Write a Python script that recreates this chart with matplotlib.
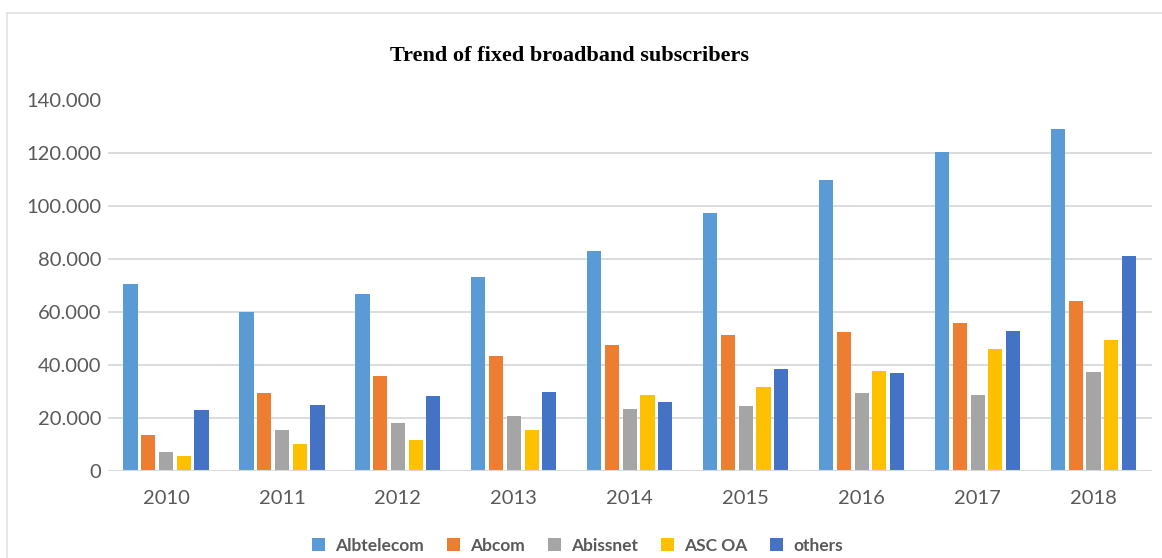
import matplotlib.pyplot as plt
import matplotlib.ticker as mticker
import numpy as np

years = ['2010', '2011', '2012', '2013', '2014', '2015', '2016', '2017', '2018']
albtelecom = [70600, 60000, 66700, 73200, 82800, 97500, 109800, 120300, 129200]
abcom = [13500, 29300, 35900, 43300, 47400, 51100, 52500, 55900, 64000]
abissnet = [7000, 15400, 17900, 20500, 23200, 24400, 29400, 28700, 37100]
asc_oa = [5500, 10100, 11700, 15400, 28400, 31500, 37600, 46000, 49300]
others = [23000, 24900, 28100, 29800, 25900, 38500, 37000, 52800, 81000]

series = [('Albtelecom', albtelecom, '#5b9bd5'),
          ('Abcom', abcom, '#ed7d31'),
          ('Abissnet', abissnet, '#a5a5a5'),
          ('ASC OA', asc_oa, '#ffc000'),
          ('others', others, '#4472c4')]

plt.rcParams['font.family'] = ['Lato', 'DejaVu Sans']
grey = '#595959'

fig = plt.figure(figsize=(11.62, 5.58), dpi=100, facecolor='white')
ax = fig.add_axes([0.093, 0.1565, 0.898, 0.6643])

x = np.arange(len(years))
step = 0.153
width = 0.122
for i, (name, vals, col) in enumerate(series):
    ax.bar(x + (i - 2) * step, vals, width=width, color=col, label=name, zorder=3)

ax.set_xlim(-0.5, len(years) - 0.5)
ax.set_ylim(0, 140000)
ax.set_yticks(range(0, 140001, 20000))
ax.yaxis.set_major_formatter(mticker.FuncFormatter(
    lambda v, p: '0' if v == 0 else '{:,.0f}'.format(v).replace(',', '.')))
ax.set_xticks(x)
ax.set_xticklabels(years)
ax.tick_params(axis='both', length=0, labelsize=14.5, colors=grey)
ax.tick_params(axis='x', pad=14)
ax.tick_params(axis='y', pad=5)

for v in range(20000, 140000, 20000):
    ax.axhline(v, color='#d9d9d9', lw=1.3, zorder=1)
ax.axhline(0, color='#d9d9d9', lw=1.5, zorder=4)
for s in ax.spines.values():
    s.set_visible(False)

fig.text(0.49, 0.9, 'Trend of fixed broadband subscribers', ha='center', va='center',
         fontsize=16, fontweight='bold', family='Liberation Serif')

leg = fig.legend(loc='center', bbox_to_anchor=(0.497, 0.022), ncol=5, frameon=False,
                 handlelength=0.75, handleheight=0.75, handletextpad=0.6,
                 columnspacing=1.3, prop={'size': 12.5, 'weight': 'bold'})
for t in leg.get_texts():
    t.set_color(grey)

# light frame along the top and left edge
fig.add_artist(plt.Line2D([0.006, 1.0], [0.977, 0.977], transform=fig.transFigure,
                          color='#e0e0e0', lw=1.2))
fig.add_artist(plt.Line2D([0.006, 0.006], [0.0, 0.977], transform=fig.transFigure,
                          color='#e0e0e0', lw=1.2))

fig.savefig('out.png', dpi=100, facecolor='white')
